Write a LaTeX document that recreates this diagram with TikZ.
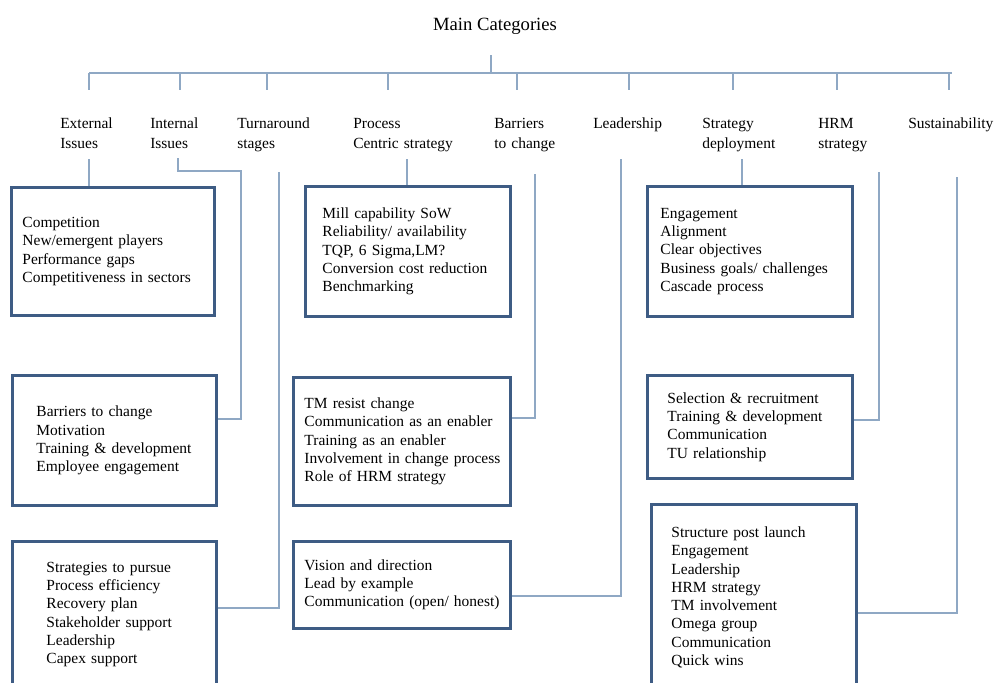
\documentclass[tikz,border=0pt]{standalone}
\usepackage{fontspec}
\setmainfont{Liberation Serif}
\usetikzlibrary{positioning}

\definecolor{boxblue}{HTML}{3E5C84}
\definecolor{linkblue}{HTML}{8FA8C4}

\begin{document}
\begin{tikzpicture}[x = 0.75pt, y = -0.75pt,
    category/.style = { anchor = base west, inner sep = 0pt, align = left, text width = 110pt,
        font = \fontsize{11.6pt}{15pt}\selectfont },
    listbox/.style = { draw = boxblue, line width = 2.2pt, anchor = north west, inner sep = 0pt,
        align = left, font = \fontsize{11.6pt}{13.7pt}\selectfont },
    indent/.style = { execute at begin node = {\leftskip=#1\relax\ignorespaces} },
    link/.style = { draw = linkblue, line width = 1pt }]
    \useasboundingbox (0,0) rectangle (995,682);

    \node [anchor = base, font = \fontsize{14pt}{16pt}\selectfont] (title) at (495,30) { Main Categories };

    % category headings
    \node [category] (ext)  at (60,128)  { External\\ Issues };
    \node [category] (int)  at (150,128) { Internal\\ Issues };
    \node [category] (turn) at (237,128) { Turnaround\\ stages };
    \node [category] (proc) at (353,128) { Process\\ Centric strategy };
    \node [category] (bar)  at (494,128) { Barriers\\ to change };
    \node [category] (lead) at (593,128) { Leadership };
    \node [category] (depl) at (702,128) { Strategy\\ deployment };
    \node [category] (hrm)  at (818,128) { HRM\\ strategy };
    \node [category] (sus)  at (908,128) { Sustainability };

    % lists under each heading
    \node [listbox, text width = 152.25pt, minimum height = 96pt, indent = 8.25pt] (extbox) at (10,186)
        {Competition\\ New/emergent players\\ Performance gaps\\ Competitiveness in sectors};
    \node [listbox, text width = 153pt, minimum height = 97.5pt, indent = 18pt] (intbox) at (11,374)
        {Barriers to change\\ Motivation\\ Training \& development\\ Employee engagement};
    \node [listbox, text width = 153pt, minimum height = 109.5pt, indent = 25.5pt] (turnbox) at (11,540)
        {Strategies to pursue\\ Process efficiency\\ Recovery plan\\ Stakeholder support\\ Leadership\\ Capex support};
    \node [listbox, text width = 153.75pt, minimum height = 97.5pt, indent = 12.75pt] (procbox) at (304,185)
        {Mill capability SoW\\ Reliability/ availability\\ TQP, 6 Sigma,LM?\\ Conversion cost reduction\\ Benchmarking};
    \node [listbox, text width = 162.75pt, minimum height = 96pt, indent = 8.25pt] (barbox) at (292,376)
        {TM resist change\\ Communication as an enabler\\ Training as an enabler\\ Involvement in change process\\ Role of HRM strategy};
    \node [listbox, text width = 162.75pt, minimum height = 65.25pt, indent = 8.25pt] (leadbox) at (292,540)
        {Vision and direction\\ Lead by example\\ Communication (open/ honest)};
    \node [listbox, text width = 153.75pt, minimum height = 97.5pt, indent = 9.75pt] (deplbox) at (646,185)
        {Engagement\\ Alignment\\ Clear objectives\\ Business goals/ challenges\\ Cascade process};
    \node [listbox, text width = 153.75pt, minimum height = 77.25pt, indent = 15pt] (hrmbox) at (646,374)
        {Selection \& recruitment\\ Training \& development\\ Communication\\ TU relationship};
    \node [listbox, text width = 153.75pt, minimum height = 139.5pt, indent = 15pt] (susbox) at (650,503)
        {Structure post launch\\ Engagement\\ Leadership\\ HRM strategy\\ TM involvement\\ Omega group\\ Communication\\ Quick wins};

    % tree from the title down to the headings
    \coordinate (root) at (491,55);
    \coordinate (bus) at (491,73);
    \foreach \n/\x in {ext/89, int/180, turn/267, proc/388, bar/517, lead/629, depl/733, hrm/837, sus/949}
        \coordinate (\n-drop) at (\x,90);
    \coordinate (bus-end) at (952,73);
    \draw [link] (root) -- (bus);
    \draw [link] (ext-drop |- bus) -- (bus-end);
    \foreach \n in {ext, int, turn, proc, bar, lead, depl, hrm, sus}
        \draw [link] (\n-drop |- bus) -- (\n-drop);

    % headings to their lists
    \coordinate (ext-top)  at (89,159);
    \coordinate (int-top)  at (178,158);
    \coordinate (int-bend) at (241,171);
    \coordinate (turn-top) at (279,172);
    \coordinate (proc-top) at (407,159);
    \coordinate (bar-top)  at (535,174);
    \coordinate (lead-top) at (621,159);
    \coordinate (depl-top) at (742,159);
    \coordinate (hrm-top)  at (879,172);
    \coordinate (sus-top)  at (957,177);

    \draw [link] (ext-top) -- (ext-top |- extbox.north);
    \draw [link] (int-top) |- (int-bend) |- ([yshift = -33.75pt]intbox.north east);
    \draw [link] (turn-top) |- ([yshift = -51pt]turnbox.north east);
    \draw [link] (proc-top) -- (proc-top |- procbox.north);
    \draw [link] (bar-top) |- ([yshift = -31.5pt]barbox.north east);
    \draw [link] (lead-top) |- ([yshift = -42pt]leadbox.north east);
    \draw [link] (depl-top) -- (depl-top |- deplbox.north);
    \draw [link] (hrm-top) |- ([yshift = -34.5pt]hrmbox.north east);
    \draw [link] (sus-top) |- ([yshift = -82.5pt]susbox.north east);

\end{tikzpicture}
\end{document}
